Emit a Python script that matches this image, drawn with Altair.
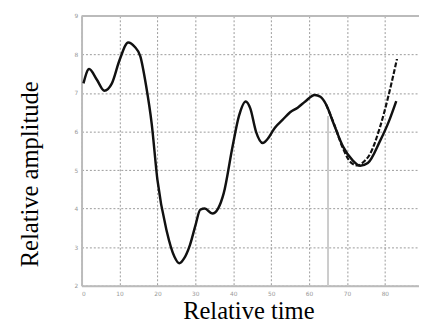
import altair as alt
import pandas as pd

# Main (solid) curve
solid_x = [0.5, 2.0, 4.0, 6.0, 8.0, 10.0, 12.3, 14.0, 15.5, 17.0, 18.5, 20.0, 22.5, 24.5, 25.8,
           27.0, 28.6, 30.0, 31.3, 32.5, 34.5, 36.0, 37.5, 39.8, 41.5, 43.3, 44.5, 46.0, 47.8,
           49.0, 51.0, 53.0, 55.0, 57.0, 59.0, 61.5, 63.0, 64.5, 66.5, 69.0, 71.5, 73.5, 75.5,
           78.7, 81.0, 83.0]
solid_y = [7.25, 7.62, 7.35, 7.06, 7.25, 7.85, 8.31, 8.2, 7.95, 7.2, 6.2, 4.75, 3.4, 2.75, 2.58,
           2.7, 3.06, 3.55, 3.97, 4.0, 3.87, 4.0, 4.4, 5.6, 6.4, 6.78, 6.6, 6.0, 5.7,
           5.8, 6.1, 6.3, 6.5, 6.62, 6.78, 6.95, 6.9, 6.7, 6.2, 5.6, 5.25, 5.11, 5.18,
           5.75, 6.25, 6.79]

# Dashed branch
dash_x = [64.5, 66.5, 69.0, 71.0, 72.8, 74.5, 76.1, 78.7, 81.0, 83.2]
dash_y = [6.7, 6.22, 5.55, 5.2, 5.12, 5.22, 5.42, 6.11, 6.95, 7.89]

# Vertical marker
marker_x = [65]
marker_y = [2.0]
marker_y2 = [6.4]

x_ticks = [0, 10, 20, 30, 40, 50, 60, 70, 80, 90]
y_ticks = [2, 3, 4, 5, 6, 7, 8, 9]

W, H = 344, 275

solid_df = pd.DataFrame({"t": solid_x, "a": solid_y})
dash_df = pd.DataFrame({"t": dash_x, "a": dash_y})
marker_df = pd.DataFrame({"t": marker_x, "a": marker_y, "a2": marker_y2})

xs = alt.Scale(domain=[0, 89], nice=False, zero=False)
ys = alt.Scale(domain=[2, 9], nice=False, zero=False)

grid_common = dict(
    grid=True, gridColor="#999999", gridDash=[2, 2], gridWidth=1,
    domainColor="#bbbbbb", domainWidth=2, ticks=False, labelOverlap=False,
    labelFont="DejaVu Sans", labelFontSize=6, labelColor="#999999",
    titleFont="Liberation Serif", titleFontSize=25, titleFontWeight="normal",
    titleColor="#000000", titleBaseline="alphabetic",
)

x_axis = alt.Axis(values=x_ticks, title="Relative time", labelPadding=5,
                  titleX=170, titleY=33, titleAlign="center", **grid_common)
y_axis = alt.Axis(values=y_ticks, title="Relative amplitude", labelPadding=4,
                  titleX=-45, titleY=161, titleAlign="center", titleAngle=-90, **grid_common)

X = alt.X("t:Q", scale=xs, axis=x_axis)
Y = alt.Y("a:Q", scale=ys, axis=y_axis)

marker = alt.Chart(marker_df).mark_rule(color="#cccccc", strokeWidth=2).encode(
    x=X, y=Y, y2="a2:Q",
)

top_border = alt.Chart(marker_df).mark_rule(color="#bbbbbb", strokeWidth=2).encode(
    x=alt.value(0), x2=alt.value(W), y=alt.value(0)
)

solid = alt.Chart(solid_df).mark_line(color="#111111", strokeWidth=2.5, interpolate="monotone").encode(
    x=X, y=Y
)
dashed = alt.Chart(dash_df).mark_line(color="#111111", strokeWidth=2.2, strokeDash=[5, 2],
                                      interpolate="monotone").encode(
    x=X, y=Y
)

chart = alt.layer(marker, top_border, solid, dashed).properties(
    width=W, height=H,
    autosize=alt.AutoSizeParams(type="none"),
    padding={"left": 75, "top": 5, "right": 0, "bottom": 35},
).configure_view(stroke=None).configure(background="white")

chart.save("out.html", embed_options={"renderer": "svg", "actions": False})
